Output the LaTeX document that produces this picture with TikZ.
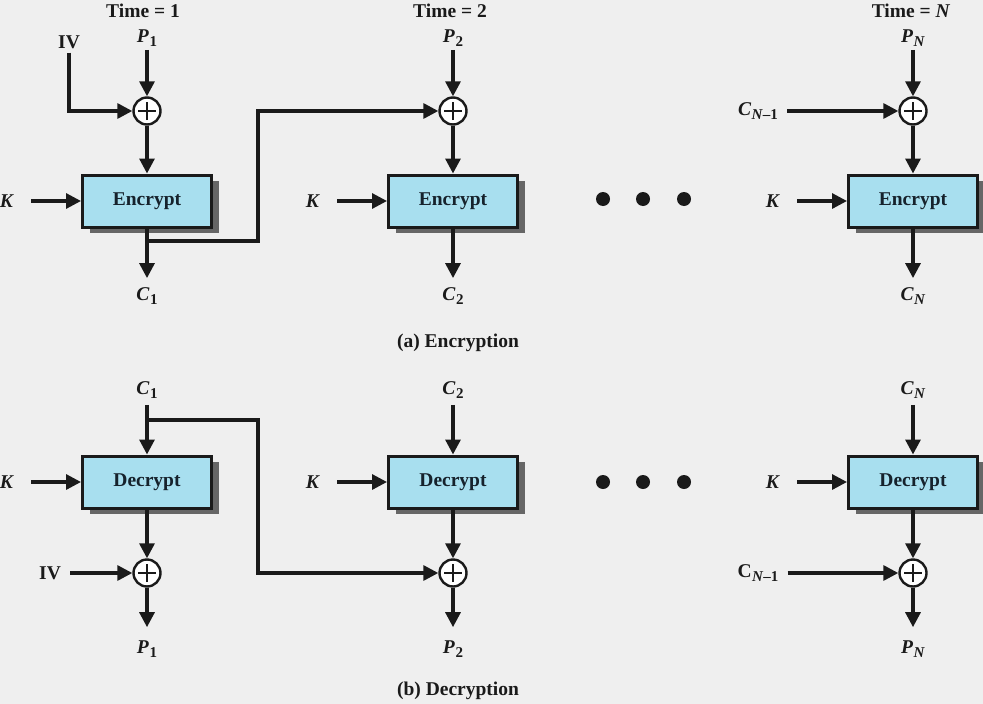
\documentclass[tikz,border=0pt]{standalone}
\usepackage{fontspec}
\setmainfont{Liberation Serif}
\usetikzlibrary{arrows.meta,shadows}
\definecolor{bg}{HTML}{EFEFEF}
\definecolor{boxfill}{HTML}{A8DFEF}
\definecolor{boxtext}{HTML}{16222C}
\definecolor{shade}{HTML}{666666}
\definecolor{ink}{HTML}{1A1A1A}
\newcommand\lsub[2]{#1\kern0.5pt\raisebox{-4.5pt}{\fontsize{15}{15}\selectfont #2}}
\tikzset{
  lw/.style={line width=3.2pt, draw=ink},
  arr/.style={lw, -{Triangle[length=15pt,width=15pt]}},
  karr/.style={arr, shorten <=16pt},
  cipherbox/.style={draw=ink, line width=3pt, fill=boxfill, minimum width=129pt,
    minimum height=52pt, inner sep=0pt, text=boxtext,
    font=\fontsize{19.5}{22}\selectfont\bfseries,
    drop shadow={shadow xshift=7pt, shadow yshift=-6pt, fill=shade, opacity=1}},
  xorop/.style={circle, draw=ink, line width=2.4pt, fill=white, minimum size=27pt,
    inner sep=0pt, path picture={\draw[line width=2pt, ink]
      ([xshift=-9pt]path picture bounding box.center) -- ([xshift=9pt]path picture bounding box.center)
      ([yshift=-9pt]path picture bounding box.center) -- ([yshift=9pt]path picture bounding box.center);}},
  lbl/.style={font=\fontsize{19.5}{22}\selectfont\bfseries, text=ink, inner sep=1pt},
  bigdot/.style={circle, fill=ink, minimum size=14pt, inner sep=0pt},
}
\begin{document}
\begin{tikzpicture}[x=1pt,y=-1pt]
\fill[bg] (0,0) rectangle (983,704);
\useasboundingbox (0,0) rectangle (983,704);

% ---------------- Encryption ----------------
\node[lbl] (t1) at (143,11) {Time = 1};
\node[lbl] (t2) at (450,11) {Time = 2};
\node[lbl] (tN) at (911,11) {Time = \textit{N}};

\node[lbl] (p1) at (147,38) {\lsub{\textit{P}}{1}};
\node[lbl] (p2) at (453,38) {\lsub{\textit{P}}{2}};
\node[lbl] (pN) at (913,38) {\lsub{\textit{P}}{\textit{N}}};

\node[xorop] (x1) at (147,111) {};
\node[xorop] (x2) at (453,111) {};
\node[xorop] (xN) at (913,111) {};

\node[cipherbox] (e1) at (147,201) {Encrypt};
\node[cipherbox] (e2) at (453,201) {Encrypt};
\node[cipherbox] (eN) at (913,201) {Encrypt};

\node[lbl] (k1) at (7,201) {\textit{K}};
\node[lbl] (k2) at (313,201) {\textit{K}};
\node[lbl] (kN) at (773,201) {\textit{K}};

\node[lbl] (iv1) at (69,42) {IV};
\node[lbl] (cprev) at (758,111) {\lsub{\textit{C}}{\textit{N}–1}};

\node[lbl] (c1) at (147,296) {\lsub{\textit{C}}{1}};
\node[lbl] (c2) at (453,296) {\lsub{\textit{C}}{2}};
\node[lbl] (cN) at (913,296) {\lsub{\textit{C}}{\textit{N}}};

\node[bigdot] (da1) at (603,199) {};
\node[bigdot] (da2) at (643,199) {};
\node[bigdot] (da3) at (684,199) {};

\node[lbl] (capa) at (458,343) {(a) Encryption};

\draw[arr, shorten <=2pt] (p1) -- (x1);
\draw[arr, shorten <=2pt] (p2) -- (x2);
\draw[arr, shorten <=2pt] (pN) -- (xN);
\draw[arr, shorten <=3pt] (iv1) |- (x1);
\draw[arr, shorten <=8pt] (cprev) -- (xN);
\draw[arr] (x1) -- (e1);
\draw[arr] (x2) -- (e2);
\draw[arr] (xN) -- (eN);
\draw[karr] (k1) -- (e1);
\draw[karr] (k2) -- (e2);
\draw[karr] (kN) -- (eN);
\draw[arr, shorten >=8pt] (e1) -- (c1);
\draw[arr, shorten >=8pt] (e2) -- (c2);
\draw[arr, shorten >=8pt] (eN) -- (cN);

\coordinate (f1) at (147,241);
\coordinate (f2) at (258,241);
\coordinate (f3) at (258,111);
\draw[arr] (f1) -- (f2) -- (f3) -- (x2);

% ---------------- Decryption ----------------
\node[lbl] (dc1) at (147,390) {\lsub{\textit{C}}{1}};
\node[lbl] (dc2) at (453,390) {\lsub{\textit{C}}{2}};
\node[lbl] (dcN) at (913,390) {\lsub{\textit{C}}{\textit{N}}};

\node[cipherbox] (d1) at (147,482) {Decrypt};
\node[cipherbox] (d2) at (453,482) {Decrypt};
\node[cipherbox] (dN) at (913,482) {Decrypt};

\node[lbl] (dk1) at (7,482) {\textit{K}};
\node[lbl] (dk2) at (313,482) {\textit{K}};
\node[lbl] (dkN) at (773,482) {\textit{K}};

\node[xorop] (y1) at (147,573) {};
\node[xorop] (y2) at (453,573) {};
\node[xorop] (yN) at (913,573) {};

\node[lbl] (iv2) at (50,573) {IV};
\node[lbl] (dprev) at (758,573) {\lsub{C}{\textit{N}–1}};

\node[lbl] (dp1) at (147,649) {\lsub{\textit{P}}{1}};
\node[lbl] (dp2) at (453,649) {\lsub{\textit{P}}{2}};
\node[lbl] (dpN) at (913,649) {\lsub{\textit{P}}{\textit{N}}};

\node[bigdot] (db1) at (603,482) {};
\node[bigdot] (db2) at (643,482) {};
\node[bigdot] (db3) at (684,482) {};

\node[lbl] (capb) at (458,691) {(b) Decryption};

\draw[arr, shorten <=5pt] (dc1) -- (d1);
\draw[arr, shorten <=5pt] (dc2) -- (d2);
\draw[arr, shorten <=5pt] (dcN) -- (dN);
\draw[karr] (dk1) -- (d1);
\draw[karr] (dk2) -- (d2);
\draw[karr] (dkN) -- (dN);
\draw[arr] (d1) -- (y1);
\draw[arr] (d2) -- (y2);
\draw[arr] (dN) -- (yN);
\draw[arr, shorten <=8pt] (iv2) -- (y1);
\draw[arr, shorten <=8pt] (dprev) -- (yN);
\draw[arr, shorten >=12pt] (y1) -- (dp1);
\draw[arr, shorten >=12pt] (y2) -- (dp2);
\draw[arr, shorten >=12pt] (yN) -- (dpN);

\coordinate (g1) at (147,420);
\coordinate (g2) at (258,420);
\coordinate (g3) at (258,573);
\draw[arr] (g1) -- (g2) -- (g3) -- (y2);
\end{tikzpicture}
\end{document}
